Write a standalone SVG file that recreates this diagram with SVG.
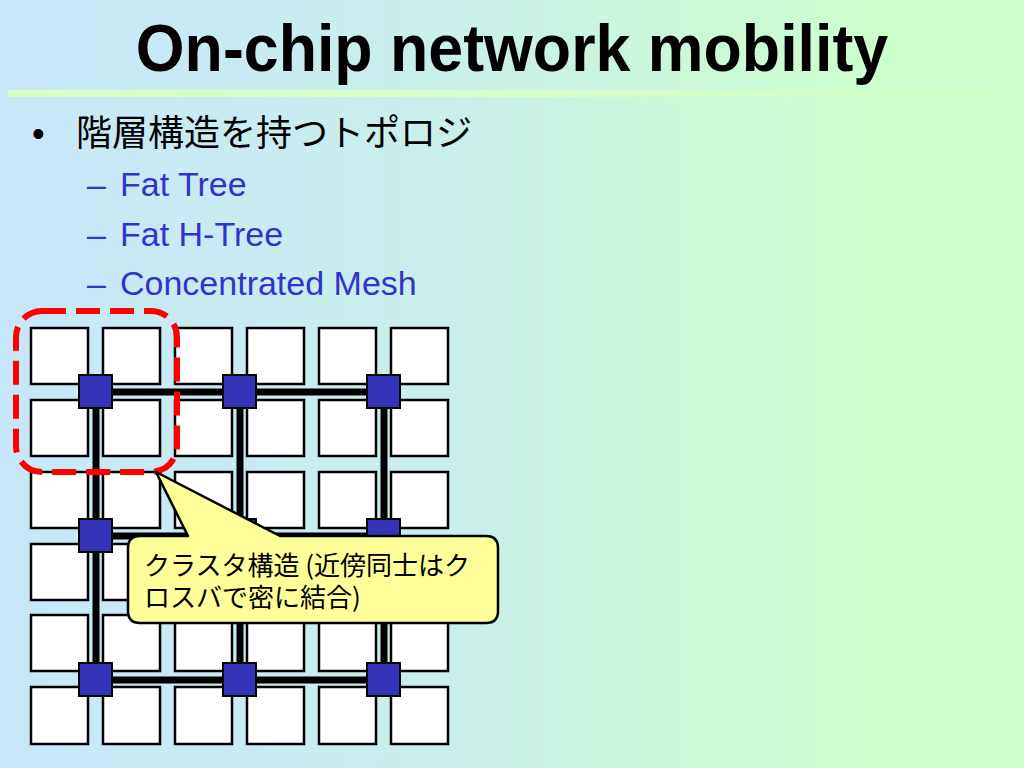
<svg xmlns="http://www.w3.org/2000/svg" width="1024" height="768" viewBox="0 0 1024 768">
  <defs>
    <linearGradient id="bg" x1="0" y1="0" x2="1" y2="0">
      <stop offset="0" stop-color="#C7E7FA"/>
      <stop offset="0.45" stop-color="#C9F0EA"/>
      <stop offset="0.85" stop-color="#CCFFCC"/>
      <stop offset="1" stop-color="#CCFFCC"/>
    </linearGradient>
    <linearGradient id="bar" x1="0" y1="0" x2="1" y2="0">
      <stop offset="0" stop-color="#D8FFC4"/>
      <stop offset="1" stop-color="#D0FFC8"/>
    </linearGradient>
    <style>
      .title { font-family: "Liberation Sans", Arial, sans-serif; font-weight: bold; font-size: 66px; fill: #000; }
      .lvl1 { font-family: "Noto Sans CJK JP", "Liberation Sans", sans-serif; font-size: 36px; fill: #000; }
      .bul { font-family: "Liberation Sans", Arial, sans-serif; font-size: 36px; fill: #000; }
      .lvl2 { font-family: "Liberation Sans", Arial, sans-serif; font-size: 34px; fill: #3333CC; }
      .tile { fill: #FFFFFF; stroke: #000; stroke-width: 2.5; }
      .sw { fill: #3333B8; stroke: #000; stroke-width: 2; }
      .link { stroke: #000; stroke-width: 7; fill: none; }
      .callout { fill: #FFFF99; stroke: #000; stroke-width: 2.5; stroke-linejoin: round; }
      .ctext { font-family: "Noto Sans CJK JP", "Liberation Sans", sans-serif; font-size: 26px; fill: #000; }
    </style>
  </defs>

  <rect x="0" y="0" width="1024" height="768" fill="url(#bg)"/>

  <g id="title">
    <text class="title" transform="translate(512 71) scale(0.95 1)" x="0" y="0" text-anchor="middle">On-chip network mobility</text>
    <rect x="8" y="90" width="992" height="7" fill="url(#bar)"/>
  </g>

  <g id="bullets">
    <text class="bul" x="32" y="146">•</text>
    <text class="lvl1" x="76" y="146">階層構造を持つトポロジ</text>
    <text class="lvl2" x="87" y="196">–</text>
    <text class="lvl2" x="120" y="196">Fat Tree</text>
    <text class="lvl2" x="87" y="246">–</text>
    <text class="lvl2" x="120" y="246">Fat H-Tree</text>
    <text class="lvl2" x="87" y="295">–</text>
    <text class="lvl2" x="120" y="295">Concentrated Mesh</text>
  </g>

  <g id="tiles">
    <rect class="tile" x="31" y="328" width="57" height="56"/>
    <rect class="tile" x="103" y="328" width="57" height="56"/>
    <rect class="tile" x="175" y="328" width="57" height="56"/>
    <rect class="tile" x="247" y="328" width="57" height="56"/>
    <rect class="tile" x="319" y="328" width="57" height="56"/>
    <rect class="tile" x="391" y="328" width="57" height="56"/>

    <rect class="tile" x="31" y="400" width="57" height="56"/>
    <rect class="tile" x="103" y="400" width="57" height="56"/>
    <rect class="tile" x="175" y="400" width="57" height="56"/>
    <rect class="tile" x="247" y="400" width="57" height="56"/>
    <rect class="tile" x="319" y="400" width="57" height="56"/>
    <rect class="tile" x="391" y="400" width="57" height="56"/>

    <rect class="tile" x="31" y="472" width="57" height="56"/>
    <rect class="tile" x="103" y="472" width="57" height="56"/>
    <rect class="tile" x="175" y="472" width="57" height="56"/>
    <rect class="tile" x="247" y="472" width="57" height="56"/>
    <rect class="tile" x="319" y="472" width="57" height="56"/>
    <rect class="tile" x="391" y="472" width="57" height="56"/>

    <rect class="tile" x="31" y="544" width="57" height="56"/>
    <rect class="tile" x="103" y="544" width="57" height="56"/>
    <rect class="tile" x="175" y="544" width="57" height="56"/>
    <rect class="tile" x="247" y="544" width="57" height="56"/>
    <rect class="tile" x="319" y="544" width="57" height="56"/>
    <rect class="tile" x="391" y="544" width="57" height="56"/>

    <rect class="tile" x="31" y="615" width="57" height="56"/>
    <rect class="tile" x="103" y="615" width="57" height="56"/>
    <rect class="tile" x="175" y="615" width="57" height="56"/>
    <rect class="tile" x="247" y="615" width="57" height="56"/>
    <rect class="tile" x="319" y="615" width="57" height="56"/>
    <rect class="tile" x="391" y="615" width="57" height="56"/>

    <rect class="tile" x="31" y="687" width="57" height="57"/>
    <rect class="tile" x="103" y="687" width="57" height="57"/>
    <rect class="tile" x="175" y="687" width="57" height="57"/>
    <rect class="tile" x="247" y="687" width="57" height="57"/>
    <rect class="tile" x="319" y="687" width="57" height="57"/>
    <rect class="tile" x="391" y="687" width="57" height="57"/>
  </g>

  <g id="connectors">
    <line class="link" x1="96" y1="392" x2="384" y2="392"/>
    <line class="link" x1="96" y1="536" x2="384" y2="536"/>
    <line class="link" x1="96" y1="680" x2="384" y2="680"/>
    <line class="link" x1="96" y1="392" x2="96" y2="680"/>
    <line class="link" x1="240" y1="392" x2="240" y2="680"/>
    <line class="link" x1="384" y1="392" x2="384" y2="680"/>
  </g>

  <g id="switches">
    <rect class="sw" x="79" y="375" width="33" height="33"/>
    <rect class="sw" x="223" y="375" width="33" height="33"/>
    <rect class="sw" x="367" y="375" width="33" height="33"/>
    <rect class="sw" x="79" y="519" width="33" height="33"/>
    <rect class="sw" x="223" y="519" width="33" height="33"/>
    <rect class="sw" x="367" y="519" width="33" height="33"/>
    <rect class="sw" x="79" y="663" width="33" height="33"/>
    <rect class="sw" x="223" y="663" width="33" height="33"/>
    <rect class="sw" x="367" y="663" width="33" height="33"/>
  </g>

  <g id="cluster">
    <rect x="16" y="311" width="161" height="161" rx="26" ry="26" fill="none" stroke="#FF0000" stroke-width="6" stroke-dasharray="24 10"/>
  </g>

  <g id="callout">
    <path class="callout" d="M 140 536 L 188 536 L 156 472 L 280 536 L 486 536 Q 498 536 498 548 L 498 611 Q 498 623 486 623 L 140 623 Q 128 623 128 611 L 128 548 Q 128 536 140 536 Z"/>
    <text class="ctext"><tspan x="144" y="575">クラスタ構造 (近傍同士はク</tspan><tspan x="144" y="607">ロスバで密に結合)</tspan></text>
  </g>
</svg>
